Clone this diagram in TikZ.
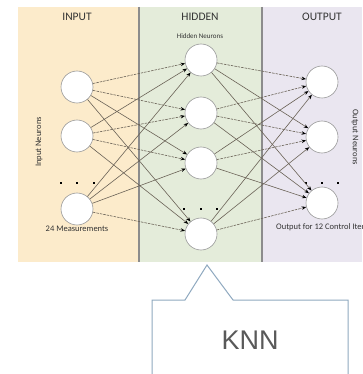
\documentclass[tikz,border=0pt]{standalone}
\usepackage{fontspec}
\setmainfont{Carlito}
\newfontfamily\knnfont{Liberation Sans}
\usetikzlibrary{arrows.meta}
\definecolor{inbg}{HTML}{FCEBCB}
\definecolor{hidbg}{HTML}{E4ECDA}
\definecolor{outbg}{HTML}{EAE6F0}
\definecolor{sepc}{HTML}{8C8C8C}
\definecolor{edgec}{HTML}{6A6256}
\definecolor{callc}{HTML}{8FA9C0}
\definecolor{txtc}{HTML}{333333}
\begin{document}
\begin{tikzpicture}[x=1pt,y=-1pt,
  neuron/.style={circle,draw=gray!80,fill=white,line width=0.6pt,minimum size=32pt,inner sep=0pt},
  conn/.style={draw=edgec,line width=0.6pt,-{Stealth[black,length=4.5pt,width=3.5pt]}},
  dconn/.style={conn,dash pattern=on 2.5pt off 1pt},
  title/.style={font=\fontsize{11.5}{12}\selectfont,text=txtc},
  small/.style={font=\fontsize{8.5}{9}\selectfont,text=txtc,inner sep=0pt},
  dotm/.style={fill=black,minimum size=2.8pt,inner sep=0pt,rectangle}]
\clip (0,0) rectangle (362,374);
\fill[white] (0,0) rectangle (362,374);
% panels
\fill[inbg] (18,7) rectangle (139,262);
\fill[hidbg] (139,7) rectangle (262,262);
\fill[outbg] (262,7) rectangle (362,262);
\draw[sepc,line width=1.2pt] (139,7) -- (139,262);
\draw[sepc,line width=1.2pt] (262,7) -- (262,262);
% titles
\node[title] (tin) at (77,17) {INPUT};
\node[title] (thid) at (200,17) {HIDDEN};
\node[title] (tout) at (322,17) {OUTPUT};
\node[small,font=\fontsize{7}{8}\selectfont] (hn) at (200,36) {Hidden Neurons};
\node[small,rotate=90] (inn) at (39,142) {Input Neurons};
\node[small,rotate=-90] (onn) at (355,137) {Output Neurons};
% neurons
\node[neuron] (i1) at (77,87) {};
\node[neuron] (i2) at (77,136) {};
\node[neuron] (i3) at (77,209) {};
\node[neuron] (h1) at (201,60) {};
\node[neuron] (h2) at (201,113) {};
\node[neuron] (h3) at (201,163) {};
\node[neuron] (h4) at (201,234) {};
\node[neuron] (o1) at (322,82) {};
\node[neuron] (o2) at (322,137) {};
\node[neuron] (o3) at (322,203) {};
% dots
\foreach \x/\n in {61/a,77/b,94/c} \node[dotm] (di\n) at (\x,183) {};
\foreach \x/\n in {184/a,201/b,217/c} \node[dotm] (dh\n) at (\x,209) {};
\foreach \x/\n in {306/a,322/b,338/c} \node[dotm] (do\n) at (\x,183) {};
% labels
\node[small] (meas) at (77,229) {24 Measurements};
\node[small,anchor=west] (ctrl) at (276,227) {Output for 12 Control Items};
% connections
\foreach \a/\b in {i1/h1,i1/h2,i2/h2,i2/h3,i3/h4,h1/o1,h2/o1,h2/o2,h3/o2,h4/o3}
  \draw[dconn] (\a) -- (\b);
\foreach \a/\b in {i1/h3,i1/h4,i2/h1,i2/h4,i3/h1,i3/h2,i3/h3,h1/o2,h1/o3,h2/o3,h3/o1,h3/o3,h4/o1,h4/o2}
  \draw[conn] (\a) -- (\b);
% callout
\draw[callc,line width=1pt,fill=white] (152,380) -- (152,300) -- (185,300) -- (207,265) -- (233,300) -- (348,300) -- (348,380);
\node[font=\knnfont\fontsize{27}{30}\selectfont,text=black!65] (knn) at (250,340) {KNN};
\end{tikzpicture}
\end{document}
